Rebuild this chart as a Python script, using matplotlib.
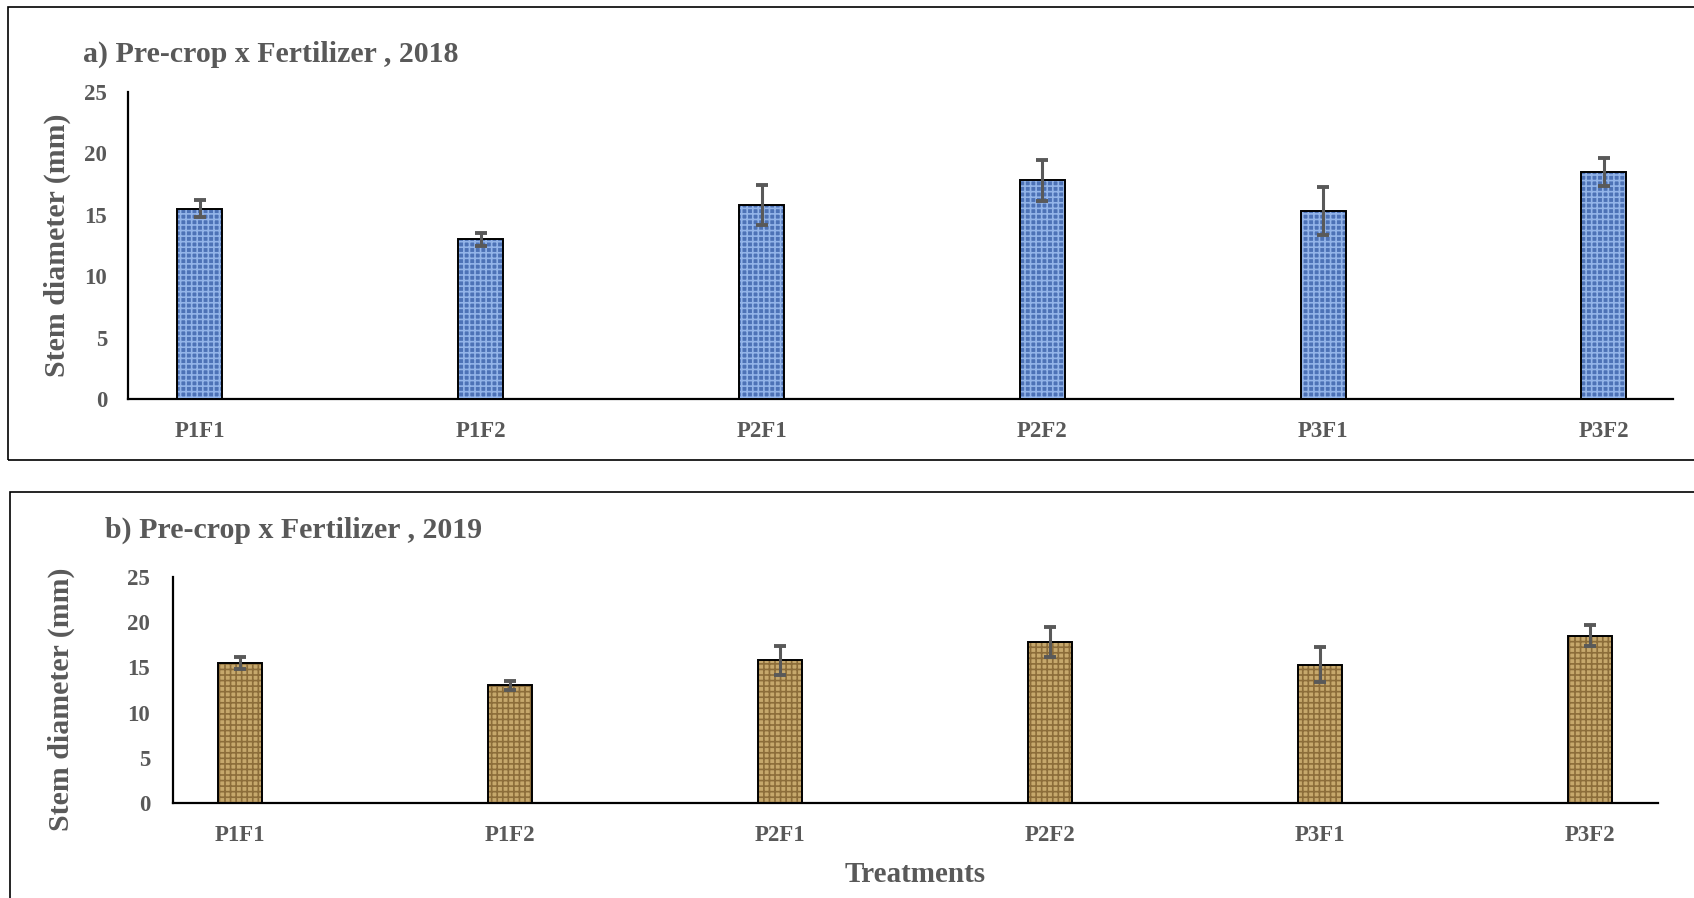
import numpy as np
import matplotlib
matplotlib.use('Agg')
import matplotlib.pyplot as plt
from matplotlib.patches import Rectangle

# Dados
tratamentos = ['P1F1', 'P1F2', 'P2F1', 'P2F2', 'P3F1', 'P3F2']
diam_2018 = [15.5, 13.0, 15.8, 17.8, 15.3, 18.5]
erro_2018 = [0.7, 0.5, 1.6, 1.7, 1.95, 1.15]
diam_2019 = [15.5, 13.0, 15.8, 17.8, 15.3, 18.5]
erro_2019 = [0.7, 0.5, 1.6, 1.7, 1.95, 1.15]

plt.rcParams['font.family'] = ['Liberation Serif', 'DejaVu Serif']
plt.rcParams['font.weight'] = 'bold'
plt.rcParams['hatch.linewidth'] = 1.2
cinza = '#595959'

W, H = 1694, 898
fig = plt.figure(figsize=(W / 100, H / 100), dpi=100)

def px_axes(left, top, right, bottom):
    return fig.add_axes([left / W, 1 - bottom / H, (right - left) / W, (bottom - top) / H])

def painel(ax, valores, erros, base, trama, xlim, pad_y):
    x = np.arange(len(tratamentos))
    larg = 0.16
    ax.bar(x, valores, larg, color=base, edgecolor='none', zorder=2)
    ax.bar(x, valores, larg, color='none', edgecolor=trama, hatch='+++', linewidth=0, zorder=3)
    ax.bar(x, valores, larg, color='none', edgecolor='black', linewidth=1.4, zorder=4)
    ax.errorbar(x, valores, yerr=erros, fmt='none', ecolor=cinza, elinewidth=2.2,
                capsize=4, capthick=2.8, zorder=5)
    ax.set_xlim(*xlim)
    ax.set_ylim(0, 25)
    ax.set_yticks([0, 5, 10, 15, 20, 25])
    ax.set_xticks(x)
    ax.set_xticklabels(tratamentos)
    for s in ['top', 'right']:
        ax.spines[s].set_visible(False)
    for s in ['left', 'bottom']:
        ax.spines[s].set_linewidth(1.6)
        ax.spines[s].set_color('black')
    ax.tick_params(axis='both', length=0, labelsize=16.5, labelcolor=cinza)
    ax.tick_params(axis='y', pad=pad_y)
    ax.tick_params(axis='x', pad=16)
    for lb in ax.get_xticklabels() + ax.get_yticklabels():
        lb.set_fontweight('bold')

# a) 2018
ax1 = px_axes(128, 92, 1673, 399)
painel(ax1, diam_2018, erro_2018, '#4d72b6', '#93b4e8', (-0.256, 5.246), 15)

# b) 2019
ax2 = px_axes(173, 577, 1658, 803)
painel(ax2, diam_2019, erro_2019, '#c6a86c', '#8c6d3a', (-0.248, 5.252), 16.5)

# Textos
fig.text(83 / W, 1 - 54 / H, 'a) Pre-crop x Fertilizer , 2018', fontsize=21.5,
         fontweight='bold', color=cinza, ha='left', va='center')
fig.text(105 / W, 1 - 530 / H, 'b) Pre-crop x Fertilizer , 2019', fontsize=21.5,
         fontweight='bold', color=cinza, ha='left', va='center')
fig.text(57 / W, 1 - 245 / H, 'Stem diameter (mm)', rotation=90, fontsize=21.5,
         fontweight='bold', color=cinza, ha='center', va='center')
fig.text(61 / W, 1 - 699 / H, 'Stem diameter (mm)', rotation=90, fontsize=21.5,
         fontweight='bold', color=cinza, ha='center', va='center')
fig.text(915 / W, 1 - 875 / H, 'Treatments', fontsize=21,
         fontweight='bold', color=cinza, ha='center', va='center')

# Molduras
fig.patches.append(Rectangle((8 / W, 1 - 460 / H), 1.0, 453 / H, transform=fig.transFigure,
                             fill=False, edgecolor='black', linewidth=1.2))
fig.patches.append(Rectangle((10 / W, -0.05), 1.0, (898 - 492) / H + 0.05, transform=fig.transFigure,
                             fill=False, edgecolor='black', linewidth=1.2))

fig.savefig('out.png', dpi=100)
